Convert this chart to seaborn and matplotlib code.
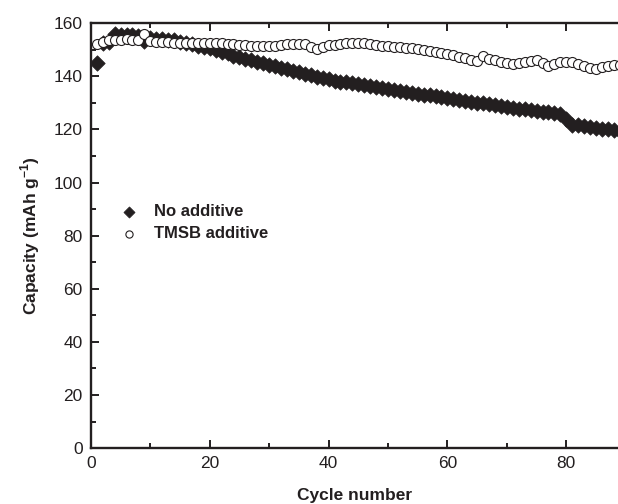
import numpy as np
import pandas as pd
import matplotlib
matplotlib.use("Agg")
import matplotlib.pyplot as plt
import seaborn as sns
from matplotlib.ticker import MultipleLocator

cycles = list(range(1, 90))
no_additive = [
    145.0, 152.5, 153.0, 156.0, 155.5, 155.5, 155.5, 155.0, 153.3, 154.5,
    154.0, 154.0, 153.5, 153.5, 153.0, 152.5, 152.0, 151.5, 151.0, 150.5,
    149.8, 149.0, 148.6, 147.8, 147.4, 146.6, 146.2, 145.4, 145.0, 144.3,
    143.9, 143.2, 142.8, 142.0, 141.6, 141.0, 140.5, 139.9, 139.5, 139.0,
    138.4, 138.0, 137.7, 137.3, 137.0, 136.6, 136.3, 135.9, 135.6, 135.2,
    134.9, 134.4, 134.1, 133.8, 133.4, 133.1, 132.8, 132.4, 132.1, 131.8,
    131.4, 131.1, 130.8, 130.4, 130.1, 129.8, 129.4, 129.1, 128.8, 128.4,
    128.1, 127.8, 127.5, 127.2, 126.9, 126.6, 126.4, 126.1, 125.9, 124.0,
    121.8, 121.6, 121.2, 121.0, 120.6, 120.3, 120.0, 119.6, 119.3,
]
tmsb_additive = [
    152.1, 152.8, 153.5, 153.8, 153.8, 153.9, 153.8, 153.6, 155.8, 153.2,
    153.0, 152.9, 152.8, 152.7, 152.7, 152.6, 152.5, 152.5, 152.6, 152.6,
    152.5, 152.4, 152.2, 152.0, 151.8, 151.6, 151.5, 151.5, 151.4, 151.5,
    151.4, 151.6, 152.0, 152.3, 152.3, 152.0, 151.2, 150.4, 151.2, 151.6,
    151.9, 152.1, 152.4, 152.6, 152.6, 152.4, 152.1, 151.8, 151.5, 151.3,
    151.2, 151.0, 150.8, 150.6, 150.2, 149.9, 149.6, 149.3, 148.8, 148.4,
    148.0, 147.4, 146.8, 146.2, 145.6, 147.5, 146.6, 146.0, 145.4, 145.0,
    144.8, 145.0, 145.2, 145.8, 146.1, 145.0, 143.9, 144.8, 145.2, 145.4,
    145.2, 144.6, 143.9, 143.3, 142.9, 143.5, 143.9, 144.1, 144.2,
]
series_labels = ["No additive", "TMSB additive"]
x_ticks = [0, 20, 40, 60, 80]
y_ticks = [0, 20, 40, 60, 80, 100, 120, 140, 160]

sns.set_style("ticks")
plt.rcParams["font.family"] = ["Liberation Sans", "DejaVu Sans"]
plt.rcParams["mathtext.fontset"] = "custom"
plt.rcParams["mathtext.rm"] = "Liberation Sans"
plt.rcParams["mathtext.bf"] = "Liberation Sans:bold"

ink = "#231f20"
fig = plt.figure(figsize=(6.18, 5.04), dpi=100)
ax = fig.add_axes([0.147, 0.111, 0.853, 0.843])

df1 = pd.DataFrame({"cycle": cycles, "cap": no_additive})
df2 = pd.DataFrame({"cycle": cycles, "cap": tmsb_additive})

sns.scatterplot(data=df1, x="cycle", y="cap", ax=ax, marker="D", s=62,
                color=ink, edgecolor=ink, linewidth=0.5,
                label=series_labels[0], zorder=2)
sns.scatterplot(data=df2, x="cycle", y="cap", ax=ax, marker="o", s=52,
                facecolor="white", edgecolor=ink, linewidth=0.8,
                label=series_labels[1], zorder=3)

ax.set_xlim(0, 88.7)
ax.set_ylim(0, 160)
ax.set_xticks(x_ticks)
ax.set_yticks(y_ticks)
ax.xaxis.set_minor_locator(MultipleLocator(10))
ax.yaxis.set_minor_locator(MultipleLocator(10))
ax.tick_params(which="both", direction="in", top=True, right=False,
               labelsize=12.5, width=1.4, colors=ink, pad=6)
ax.tick_params(which="major", length=6)
ax.tick_params(which="minor", length=3.5)
for side in ["left", "bottom", "top"]:
    ax.spines[side].set_linewidth(1.7)
    ax.spines[side].set_color(ink)
ax.spines["right"].set_visible(False)

ax.set_xlabel("Cycle number", fontsize=12.5, fontweight="bold", labelpad=12,
              color=ink)
ax.set_ylabel(r"Capacity (mAh g$^{\mathbf{-1}}$)", fontsize=12.5,
              fontweight="bold", labelpad=8, color=ink)

leg = ax.legend(loc="upper left", bbox_to_anchor=(0.012, 0.61), frameon=False,
                prop={"weight": "bold", "size": 12}, handletextpad=0.5,
                labelspacing=0.45, markerscale=0.72)
for t in leg.get_texts():
    t.set_color(ink)

fig.savefig("out.png", dpi=100)
